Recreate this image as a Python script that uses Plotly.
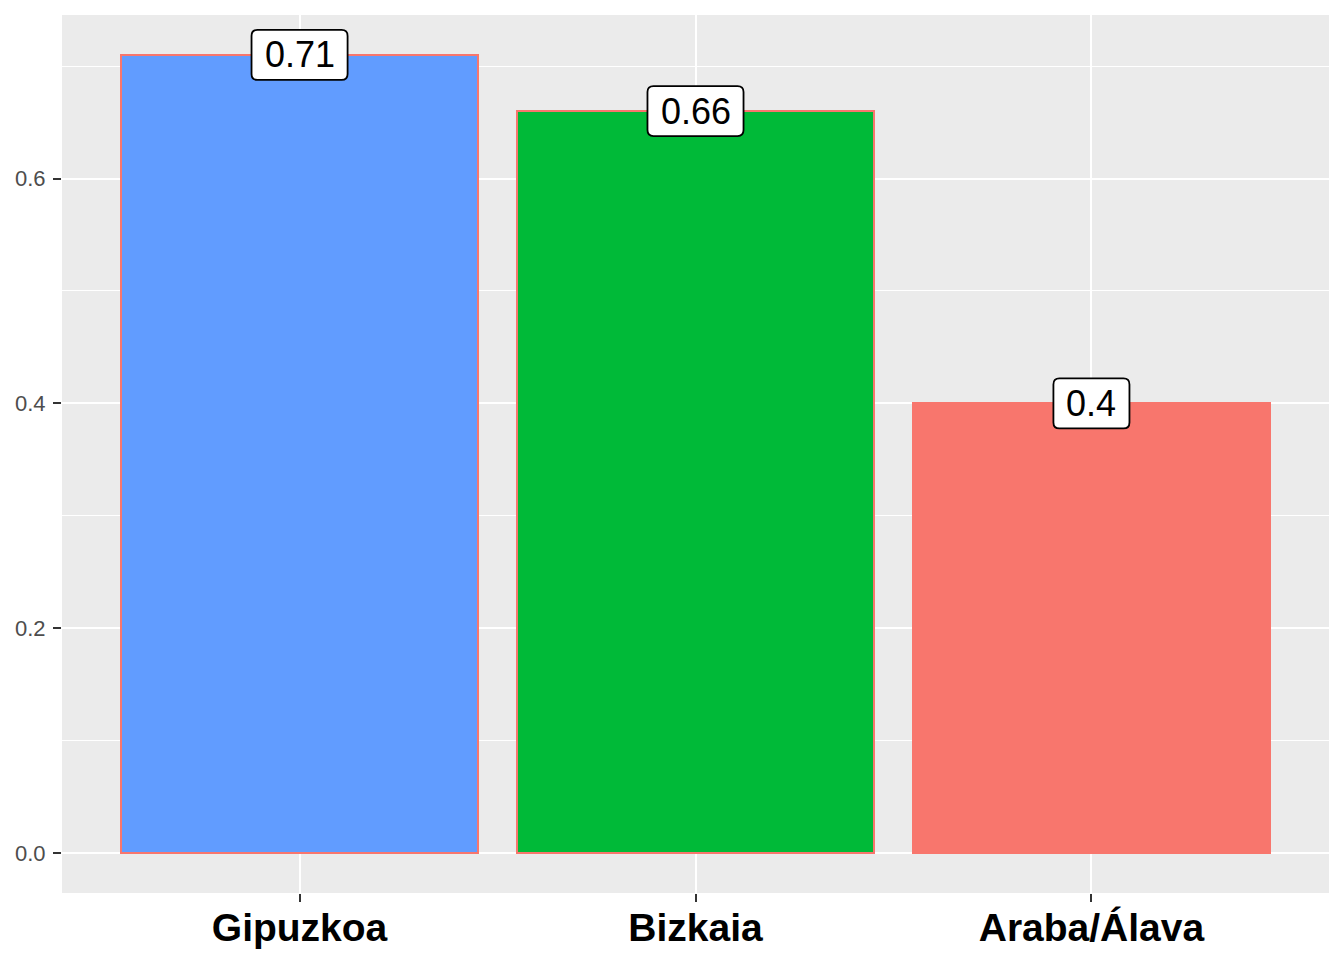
import plotly.graph_objects as go

categories = ["Gipuzkoa", "Bizkaia", "Araba/Álava"]
values = [0.71, 0.66, 0.40]
labels = ["0.71", "0.66", "0.4"]
colors = ["#619CFF", "#00BA38", "#F8766D"]
y_ticks = [0.0, 0.2, 0.4, 0.6]
y_tick_text = ["0.0", "0.2", "0.4", "0.6"]

FONT = "Liberation Sans, Arial, sans-serif"
LABEL_SIZE = 36

fig = go.Figure()
fig.add_trace(go.Bar(
    x=categories, y=values, width=0.9,
    marker=dict(color=colors, line=dict(color="#F8766D", width=2)),
    showlegend=False, hoverinfo="skip",
))


def text_width(s, size):
    w = 0.0
    for ch in s:
        w += 0.278 if ch == "." else 0.556
    return w * size


def rounded_rect(hw, hh, r):
    return (f"M {-hw + r},{-hh} L {hw - r},{-hh} Q {hw},{-hh} {hw},{-hh + r} "
            f"L {hw},{hh - r} Q {hw},{hh} {hw - r},{hh} L {-hw + r},{hh} "
            f"Q {-hw},{hh} {-hw},{hh - r} L {-hw},{-hh + r} Q {-hw},{-hh} {-hw + r},{-hh} Z")


for c, v, t in zip(categories, values, labels):
    hw = (text_width(t, LABEL_SIZE) + 26) / 2
    hh = 25
    fig.add_shape(
        type="path", xref="x", yref="y", xsizemode="pixel", ysizemode="pixel",
        xanchor=c, yanchor=v, path=rounded_rect(hw, hh, 6),
        fillcolor="white", line=dict(color="black", width=1.8), layer="above",
    )
    fig.add_annotation(
        x=c, y=v, text=t, showarrow=False, xanchor="center", yanchor="middle",
        font=dict(family=FONT, size=LABEL_SIZE, color="black"),
    )

fig.update_layout(
    width=1344, height=960,
    margin=dict(l=62, r=15, t=15, b=67, autoexpand=False),
    paper_bgcolor="white", plot_bgcolor="#EBEBEB",
    font=dict(family=FONT),
    bargap=0,
)
fig.update_xaxes(
    type="category", range=[-0.6, 2.6], automargin=False,
    showgrid=True, gridcolor="white", gridwidth=2.4,
    ticks="outside", ticklen=8, tickwidth=2.4, tickcolor="#333333",
    tickfont=dict(size=39, color="black", family=FONT, weight="bold"),
    ticklabelstandoff=-8,
    showline=False, zeroline=False, fixedrange=True,
)
fig.update_yaxes(
    range=[-0.0355, 0.7455], automargin=False,
    tickmode="array", tickvals=y_ticks, ticktext=y_tick_text,
    showgrid=True, gridcolor="white", gridwidth=2.4,
    minor=dict(tickmode="array", tickvals=[0.1, 0.3, 0.5, 0.7], showgrid=True,
               gridcolor="white", gridwidth=1.2, ticks=""),
    ticks="outside", ticklen=8, tickwidth=2.4, tickcolor="#333333",
    tickfont=dict(size=22, color="#4D4D4D"),
    ticklabelstandoff=3,
    showline=False, zeroline=False, fixedrange=True,
)

fig.write_html("out.html", config={"displayModeBar": False},
               post_script="document.body.style.margin='0';")
